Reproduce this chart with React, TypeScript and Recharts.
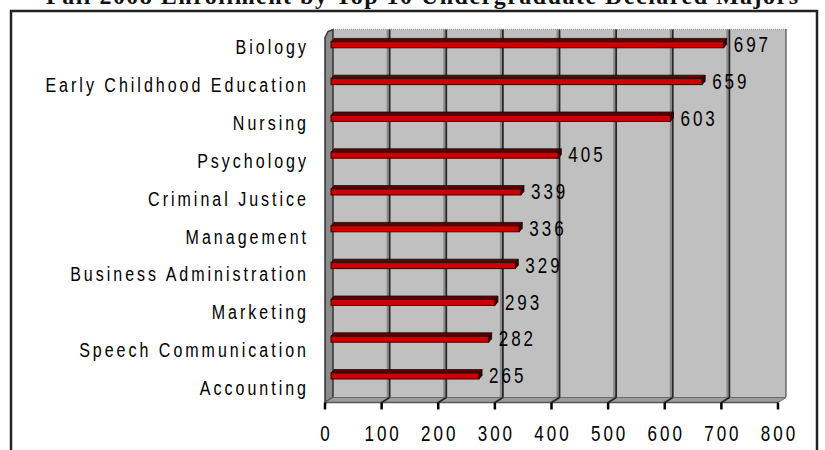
import React from 'react';
import { BarChart, Bar, XAxis, YAxis, CartesianGrid, LabelList } from 'recharts';

const majors = [
  'Biology',
  'Early Childhood Education',
  'Nursing',
  'Psychology',
  'Criminal Justice',
  'Management',
  'Business Administration',
  'Marketing',
  'Speech Communication',
  'Accounting',
];
const enrollment = [697, 659, 603, 405, 339, 336, 329, 293, 282, 265];
const xTicks = [0, 100, 200, 300, 400, 500, 600, 700, 800];

const data = majors.map((m, i) => ({ major: m, value: enrollment[i] }));

// layout of the fake 3D box (plot area in recharts is the middle depth)
const W = 825;
const H = 450;
const PLOT_LEFT = 329;
const PLOT_RIGHT = 782;
const PLOT_TOP = 32;
const PLOT_BOTTOM = 400;
const DX = 4; // half depth, horizontal
const DY = 2.5; // half depth, vertical
const LABEL_RIGHT = 309;
const FONT = '"Liberation Sans", Arial, sans-serif';
const STRETCH = 'scale(1,1.25)';

const Bar3D = (props: any) => {
  const { x, y, width, height } = props;
  const cy = y + height / 2;
  const ft = cy - 8.7;
  const fb = cy - 2.7;
  const d = 3.4;
  const dx = 3;
  const x0 = x + 2;
  const w = Math.max(width - 2, 0);
  return (
    <g>
      <polygon
        points={`${x0},${ft} ${x0 + dx},${ft - d} ${x0 + w + dx},${ft - d} ${x0 + w},${ft}`}
        fill="#5c0000"
        stroke="#2a0000"
        strokeWidth={0.8}
      />
      <rect x={x0} y={ft} width={w} height={fb - ft} fill="#cc0000" stroke="#3a0000" strokeWidth={1} />
      <polygon
        points={`${x0 + w},${ft} ${x0 + w + dx},${ft - d} ${x0 + w + dx},${fb - d} ${x0 + w},${fb}`}
        fill="#3a0000"
        stroke="#200000"
        strokeWidth={0.8}
      />
    </g>
  );
};

const ValueLabel = (props: any) => {
  const { x, y, width, height, value } = props;
  const cy = y + height / 2 - 5.7;
  return (
    <text
      transform={`translate(${x + width + 10},${cy}) ${STRETCH}`}
      dominantBaseline="central"
      fontFamily={FONT}
      fontSize={17}
      letterSpacing={3}
      fill="#000"
    >
      {value}
    </text>
  );
};

const CategoryTick = (props: any) => {
  const { y, payload, index } = props;
  // labels sit on the front edge of the floor, spread slightly wider than the bars
  const off = -3 + (index ?? 0) * 1.1;
  return (
    <text
      transform={`translate(${LABEL_RIGHT},${y + off}) ${STRETCH}`}
      textAnchor="end"
      dominantBaseline="central"
      fontFamily={FONT}
      fontSize={16}
      letterSpacing={3}
      fill="#000"
    >
      {payload.value}
    </text>
  );
};

const ValueTick = (props: any) => {
  const { x, payload } = props;
  const fx = x - DX;
  const fy = PLOT_BOTTOM + DY;
  return (
    <g>
      <line x1={fx} y1={fy} x2={fx} y2={fy + 7} stroke="#000" strokeWidth={2.5} />
      <text
        transform={`translate(${fx + 1.5},${fy + 31}) ${STRETCH}`}
        textAnchor="middle"
        dominantBaseline="central"
        fontFamily={FONT}
        fontSize={17}
        letterSpacing={3}
        fill="#000"
      >
        {payload.value}
      </text>
    </g>
  );
};

const GridLine = (props: any) => {
  const { x1, y1, y2 } = props;
  if (x1 < PLOT_LEFT + 2 || x1 > PLOT_RIGHT - 2) return <g key={`gl-${x1}`} />;
  const bx = x1 + DX;
  const top = y1 - DY;
  const bot = y2 - DY;
  return (
    <g key={`gl-${x1}`}>
      <line x1={bx - 2} y1={top} x2={bx - 2} y2={bot} stroke="#8a8a8a" strokeWidth={2} />
      <line x1={bx} y1={top} x2={bx} y2={bot} stroke="#262626" strokeWidth={1.8} />
      <line x1={bx} y1={bot} x2={x1 - DX} y2={y2 + DY} stroke="#262626" strokeWidth={1.8} />
    </g>
  );
};

const Backdrop = () => {
  const bl = PLOT_LEFT + DX;
  const br = PLOT_RIGHT + DX;
  const bt = PLOT_TOP - DY;
  const bb = PLOT_BOTTOM - DY;
  const fl = PLOT_LEFT - DX;
  const fr = PLOT_RIGHT - DX;
  const fb = PLOT_BOTTOM + DY;
  return (
    <svg width={W} height={H} style={{ position: 'absolute', left: 0, top: 0 }}>
      <text
        x={422}
        y={4}
        textAnchor="middle"
        fontFamily='"Liberation Serif", "Times New Roman", serif'
        fontWeight="bold"
        fontSize={24}
        textLength={752}
        lengthAdjust="spacing"
        fill="#111"
      >
        Fall 2008 Enrollment by Top 10 Undergraduate Declared Majors
      </text>
      <rect x={11} y={11} width={806} height={470} fill="#fff" stroke="#222" strokeWidth={2.5} />
      <rect x={bl} y={bt} width={br - bl} height={bb - bt} fill="#c0c0c0" />
      <line x1={bl} y1={bt} x2={br} y2={bt} stroke="#9a9a9a" strokeWidth={1.5} strokeDasharray="1 1" />
      <line x1={br} y1={bt} x2={br} y2={bb} stroke="#333" strokeWidth={2} strokeDasharray="1 1" />
      <polygon
        points={`${fl},${bt + 2 * DY + 3} ${fl + 3},${bt + 2} ${bl},${bt} ${bl},${bb} ${fl},${fb}`}
        fill="#8c8c8c"
        stroke="#333"
        strokeWidth={1.5}
      />
      <polygon points={`${bl},${bb} ${br},${bb} ${fr},${fb} ${fl},${fb}`} fill="#9c9c9c" stroke="#6a6a6a" strokeWidth={1} />
      <line x1={fl} y1={fb} x2={fr} y2={fb} stroke="#555" strokeWidth={1.5} />
    </svg>
  );
};

export default function App() {
  return (
    <div style={{ position: 'absolute', left: 0, top: 0, width: W, height: H, background: '#fff' }}>
      <Backdrop />
      <div style={{ position: 'absolute', left: 0, top: 0 }}>
        <BarChart
          width={W}
          height={H}
          data={data}
          layout="vertical"
          margin={{ top: PLOT_TOP, right: W - PLOT_RIGHT, bottom: 0, left: 0 }}
          barSize={7}
        >
          <CartesianGrid horizontal={false} vertical={GridLine} />
          <XAxis
            type="number"
            domain={[0, 800]}
            ticks={xTicks}
            height={H - PLOT_BOTTOM}
            axisLine={false}
            tickLine={false}
            tick={<ValueTick />}
            interval={0}
          />
          <YAxis
            type="category"
            dataKey="major"
            width={PLOT_LEFT}
            axisLine={false}
            tickLine={false}
            tick={<CategoryTick />}
            interval={0}
          />
          <Bar dataKey="value" shape={<Bar3D />} isAnimationActive={false}>
            <LabelList dataKey="value" content={<ValueLabel />} />
          </Bar>
        </BarChart>
      </div>
    </div>
  );
}
